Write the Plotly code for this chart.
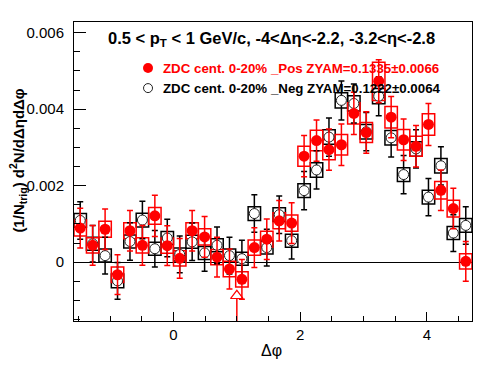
import math
import plotly.graph_objects as go

# Bin centres in delta-phi (32 bins from -pi/2 to 3pi/2)
dphi = [-1.4726, -1.2763, -1.0799, -0.8836, -0.6872, -0.4909, -0.2945, -0.0982,
        0.0982, 0.2945, 0.4909, 0.6872, 0.8836, 1.0799, 1.2763, 1.4726,
        1.6690, 1.8653, 2.0617, 2.2580, 2.4544, 2.6507, 2.8471, 3.0434,
        3.2398, 3.4361, 3.6325, 3.8288, 4.0252, 4.2215, 4.4179, 4.6142]
bin_width = 0.19635

# ZDC cent. 0-20% _Pos (red, filled)
pos_y = [0.00089, 0.00044, 0.00086, -0.00033, 0.00082, 0.00044, 0.00121, 0.00043,
         0.00010, 0.00082, 0.00066, 0.00013, -0.00018, -0.00045, 0.00038, 0.00060,
         0.00108, 0.00102, 0.00277, 0.00318, 0.00294, 0.00307, 0.00389, 0.00339,
         0.00473, 0.00379, 0.00320, 0.00303, 0.00360, 0.00188, 0.00140, 0.00002]
pos_stat = [0.00052, 0.00052, 0.00053, 0.00052, 0.00053, 0.00052, 0.00054, 0.00052,
            0.00052, 0.00053, 0.00053, 0.00052, 0.00052, 0.00052, 0.00052, 0.00053,
            0.00053, 0.00053, 0.00054, 0.00054, 0.00054, 0.00054, 0.00055, 0.00054,
            0.00056, 0.00054, 0.00054, 0.00054, 0.00055, 0.00053, 0.00053, 0.00052]
pos_sys = [0.00021, 0.00020, 0.00021, 0.00020, 0.00021, 0.00020, 0.00022, 0.00020,
           0.00020, 0.00021, 0.00021, 0.00020, 0.00020, 0.00020, 0.00020, 0.00021,
           0.00021, 0.00021, 0.00026, 0.00027, 0.00026, 0.00027, 0.00028, 0.00026,
           0.00050, 0.00028, 0.00027, 0.00026, 0.00028, 0.00023, 0.00022, 0.00020]

# ZDC cent. 0-20% _Neg (black, open)
neg_y = [0.00109, 0.00048, 0.00017, -0.00049, 0.00054, 0.00110, 0.00035, 0.00063,
         0.00020, 0.00053, 0.00024, 0.00044, 0.00017, 0.00009, 0.00127, 0.00038,
         0.00124, 0.00056, 0.00187, 0.00241, 0.00327, 0.00423, 0.00415, 0.00341,
         0.00434, 0.00325, 0.00229, 0.00296, 0.00170, 0.00252, 0.00076, 0.00096]
neg_stat = [0.00049, 0.00048, 0.00048, 0.00048, 0.00049, 0.00049, 0.00048, 0.00049,
            0.00048, 0.00049, 0.00048, 0.00048, 0.00048, 0.00048, 0.00049, 0.00048,
            0.00049, 0.00048, 0.00050, 0.00050, 0.00050, 0.00051, 0.00051, 0.00050,
            0.00051, 0.00050, 0.00050, 0.00050, 0.00049, 0.00050, 0.00048, 0.00049]
neg_sys = [0.00018, 0.00017, 0.00017, 0.00018, 0.00017, 0.00018, 0.00017, 0.00017,
           0.00017, 0.00017, 0.00017, 0.00017, 0.00017, 0.00017, 0.00018, 0.00017,
           0.00018, 0.00017, 0.00018, 0.00019, 0.00019, 0.00020, 0.00020, 0.00019,
           0.00020, 0.00019, 0.00018, 0.00019, 0.00018, 0.00019, 0.00017, 0.00018]

# extra open triangle marker
tri_x = [1.0]
tri_y = [-0.00088]
tri_err_down = [0.0012]

title_text = "0.5 &lt; p<sub>T</sub> &lt; 1 GeV/c, -4&lt;Δη&lt;-2.2, -3.2&lt;η&lt;-2.8"
pos_label = "ZDC cent. 0-20% _Pos ZYAM=0.1335±0.0066"
neg_label = "ZDC cent. 0-20% _Neg ZYAM=0.1222±0.0064"

RED = "#ff0000"
FONT = "Liberation Sans, Arial, Helvetica, sans-serif"

fig = go.Figure()

# systematic boxes
fig.add_trace(go.Bar(
    x=dphi, y=[2 * s for s in neg_sys], base=[v - s for v, s in zip(neg_y, neg_sys)],
    width=bin_width, marker=dict(color="rgba(0,0,0,0)", line=dict(color="black", width=1.5)),
    showlegend=False, hoverinfo="skip"))
fig.add_trace(go.Bar(
    x=dphi, y=[2 * s for s in pos_sys], base=[v - s for v, s in zip(pos_y, pos_sys)],
    width=bin_width, marker=dict(color="rgba(0,0,0,0)", line=dict(color=RED, width=1.5)),
    showlegend=False, hoverinfo="skip"))

# triangle
fig.add_trace(go.Scatter(
    x=tri_x, y=tri_y, mode="markers",
    marker=dict(symbol="triangle-up", size=11, color="white", line=dict(color=RED, width=1.2)),
    error_y=dict(type="data", symmetric=False, array=[0], arrayminus=tri_err_down,
                 color=RED, thickness=1.5, width=0),
    showlegend=False))

# Neg points
fig.add_trace(go.Scatter(
    x=dphi, y=neg_y, mode="markers",
    marker=dict(symbol="circle", size=10, color="white", line=dict(color="#222222", width=1)),
    error_y=dict(type="data", array=neg_stat, color="black", thickness=1.5, width=3),
    showlegend=False))

# Pos points
fig.add_trace(go.Scatter(
    x=dphi, y=pos_y, mode="markers",
    marker=dict(symbol="circle", size=11, color=RED, line=dict(width=0)),
    error_y=dict(type="data", array=pos_stat, color=RED, thickness=1.5, width=3),
    showlegend=False))

# legend markers on an overlay axis spanning the plot area
fig.add_trace(go.Scatter(
    x=[0.186], y=[0.846], xaxis="x2", yaxis="y2", mode="markers",
    marker=dict(symbol="circle", size=10, color=RED), showlegend=False, hoverinfo="skip"))
fig.add_trace(go.Scatter(
    x=[0.186], y=[0.779], xaxis="x2", yaxis="y2", mode="markers",
    marker=dict(symbol="circle", size=9, color="white", line=dict(color="#222222", width=1)),
    showlegend=False, hoverinfo="skip"))

# page body adds an 8px offset, so the figure is drawn 8px smaller
fig.update_layout(
    width=488, height=366,
    margin=dict(l=66, r=24, t=14, b=53),
    paper_bgcolor="white", plot_bgcolor="white",
    barmode="overlay",
    font=dict(family=FONT, color="black", size=14),
    xaxis=dict(range=[-math.pi / 2, 3 * math.pi / 2], showgrid=False, zeroline=False,
               showline=True, mirror=True, linecolor="black", linewidth=1,
               ticks="inside", ticklen=9, tickwidth=1, tickcolor="black",
               tick0=0, dtick=2, tickfont=dict(size=15, family=FONT),
               minor=dict(ticks="inside", ticklen=5, tickwidth=1, tickcolor="black",
                          tick0=0, dtick=0.5, showgrid=False)),
    yaxis=dict(range=[-0.00154, 0.00628], showgrid=False, zeroline=True,
               zerolinecolor="black", zerolinewidth=1,
               showline=True, mirror=True, linecolor="black", linewidth=1,
               ticks="inside", ticklen=12, tickwidth=1, tickcolor="black",
               tick0=0, dtick=0.002, tickfont=dict(size=15, family=FONT),
               ticklabelstandoff=6,
               minor=dict(ticks="inside", ticklen=6, tickwidth=1, tickcolor="black",
                          tick0=0, dtick=0.0005, showgrid=False)),
    xaxis2=dict(range=[0, 1], overlaying="x", visible=False),
    yaxis2=dict(range=[0, 1], overlaying="y", visible=False),
    annotations=[
        dict(text="<b>" + title_text + "</b>", xref="paper", yref="paper",
             x=0.496, y=0.943, xanchor="center", yanchor="middle", showarrow=False,
             font=dict(size=16.5, family=FONT, color="black")),
        dict(text="<b>" + pos_label + "</b>", xref="paper", yref="paper",
             x=0.2186, y=0.846, xanchor="left", yanchor="middle", showarrow=False,
             font=dict(size=13.3, family=FONT, color=RED)),
        dict(text="<b>" + neg_label + "</b>", xref="paper", yref="paper",
             x=0.2186, y=0.779, xanchor="left", yanchor="middle", showarrow=False,
             font=dict(size=13.3, family=FONT, color="black")),
        dict(text="<b>(1/N<sub>trig</sub>) d<sup>2</sup>N/dΔηdΔφ</b>", xref="paper", yref="paper",
             x=-0.142, y=0.538, xanchor="center", yanchor="middle", textangle=-90,
             showarrow=False, font=dict(size=15, family=FONT, color="black")),
        dict(text="Δφ", xref="paper", yref="paper",
             x=0.497, y=-0.097, xanchor="center", yanchor="middle", showarrow=False,
             font=dict(size=16, family=FONT, color="black")),
    ],
)

fig.write_html("out.html")
